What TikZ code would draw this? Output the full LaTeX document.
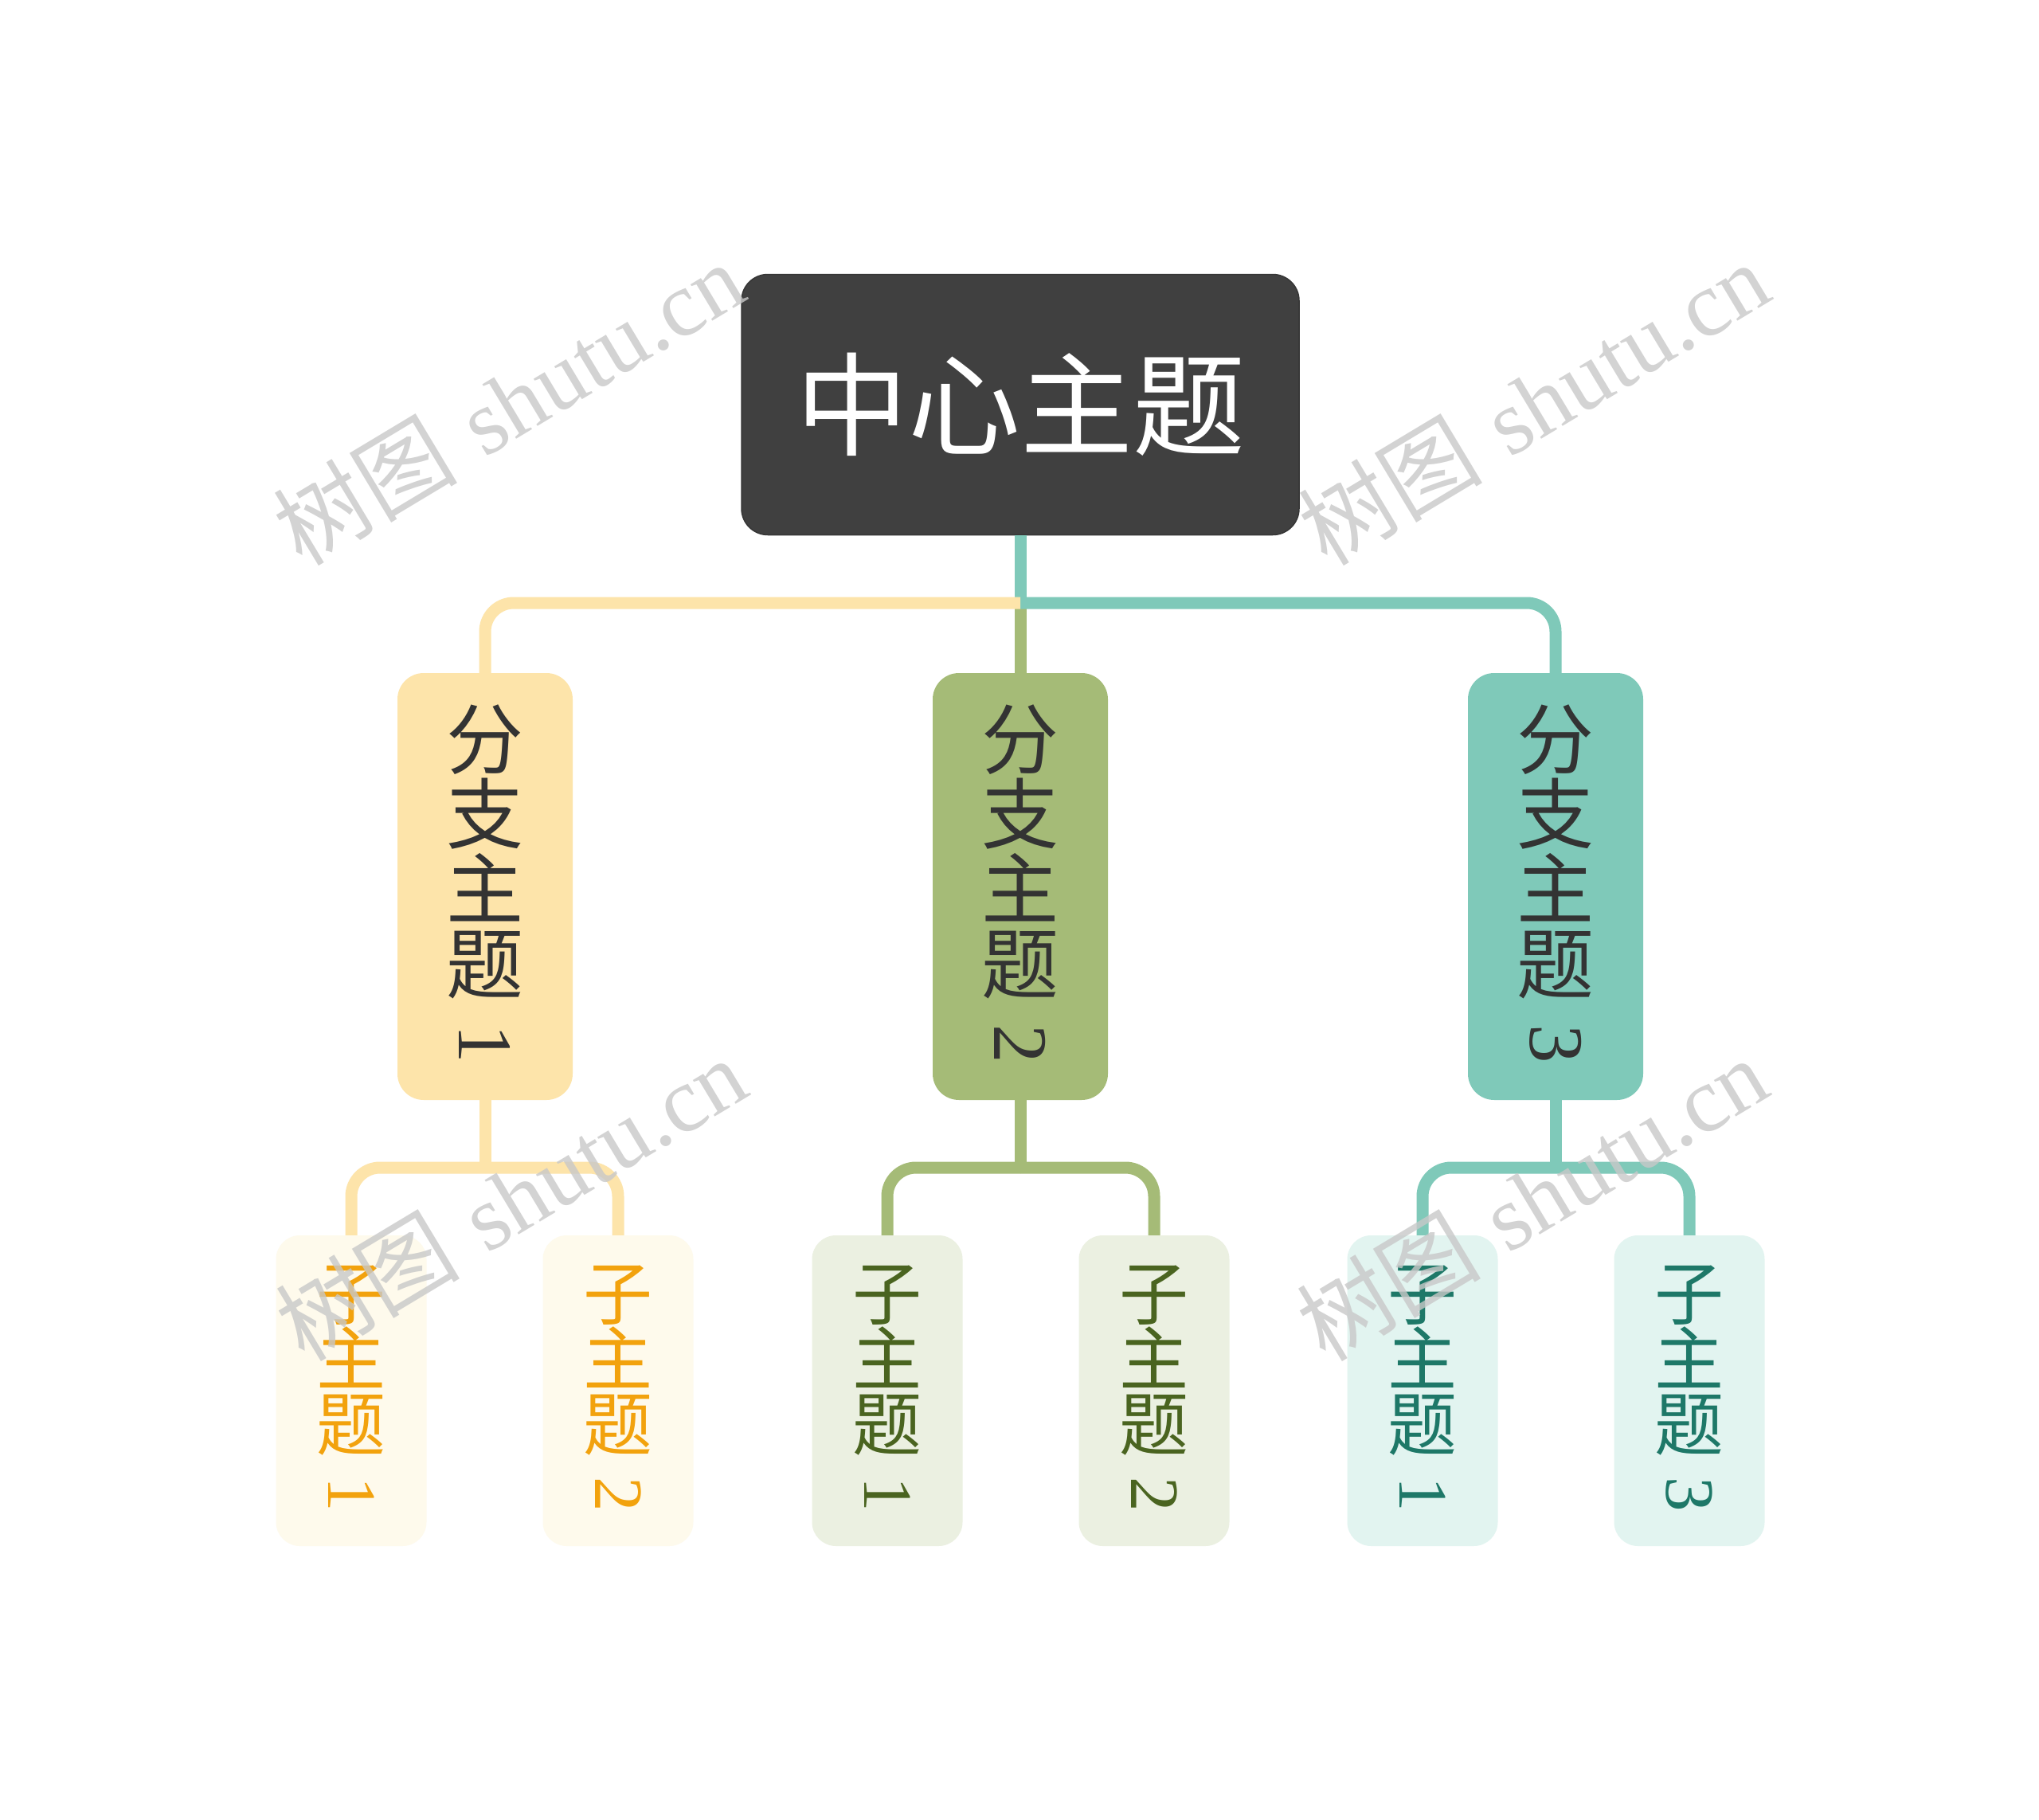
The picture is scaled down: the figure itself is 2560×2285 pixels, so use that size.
\documentclass[tikz,border=0pt]{standalone}
\usepackage{fontspec}
\usepackage{graphicx}
\newfontfamily\cjk{Noto Sans CJK SC}
\newfontfamily\serifnum{Liberation Serif}
\definecolor{rootfill}{HTML}{404040}
\definecolor{yfill}{HTML}{FDE4AA}
\definecolor{gfill}{HTML}{A5BB77}
\definecolor{tfill}{HTML}{7FC9B9}
\definecolor{ycfill}{HTML}{FEFAEC}
\definecolor{gcfill}{HTML}{EBF0E1}
\definecolor{tcfill}{HTML}{E2F4F0}
\definecolor{ytext}{HTML}{F2A20D}
\definecolor{gtext}{HTML}{4A6420}
\definecolor{ttext}{HTML}{1E7868}
\definecolor{btext}{HTML}{333333}
\definecolor{wmgray}{HTML}{C8C8C8}
\newcommand{\vdigit}[1]{\raisebox{0.56em}{\rotatebox{-90}{\serifnum #1}}}
\tikzset{
  rootbox/.style={fill=rootfill, draw=rootfill!85!black, line width=1.5pt, rounded corners=33pt,
    minimum width=700pt, minimum height=327pt, inner sep=0pt, text=white,
    font=\fontsize{141}{145}\selectfont\cjk},
  branchbox/.style={rounded corners=33pt, minimum width=220pt, minimum height=536pt,
    inner sep=0pt, text=btext, align=center, font=\fontsize{97}{94}\selectfont\cjk},
  childbox/.style={rounded corners=30pt, minimum width=189pt, minimum height=390pt,
    inner sep=0pt, align=center, font=\fontsize{87}{82}\selectfont\cjk},
  conn/.style={line width=15pt},
  wm/.style={rotate=31, text=wmgray, opacity=0.8, font=\fontsize{116}{116}\selectfont},
}
\begin{document}
\begin{tikzpicture}[x=1pt, y=-1pt]
\useasboundingbox (0,0) rectangle (2560,2285);
\fill[white] (0,0) rectangle (2560,2285);

% nodes
\node[rootbox] (root) at (1281,508) {中心主题};

\node[branchbox, fill=yfill] (b1) at (609,1113) {分\\支\\主\\题\\\vdigit{1}};
\node[branchbox, fill=gfill] (b2) at (1281,1113) {分\\支\\主\\题\\\vdigit{2}};
\node[branchbox, fill=tfill] (b3) at (1953,1113) {分\\支\\主\\题\\\vdigit{3}};

\node[childbox, fill=ycfill, text=ytext] (c11) at (441,1746) {子\\主\\题\\\vdigit{1}};
\node[childbox, fill=ycfill, text=ytext] (c12) at (776,1746) {子\\主\\题\\\vdigit{2}};
\node[childbox, fill=gcfill, text=gtext] (c21) at (1114,1746) {子\\主\\题\\\vdigit{1}};
\node[childbox, fill=gcfill, text=gtext] (c22) at (1449,1746) {子\\主\\题\\\vdigit{2}};
\node[childbox, fill=tcfill, text=ttext] (c31) at (1786,1746) {子\\主\\题\\\vdigit{1}};
\node[childbox, fill=tcfill, text=ttext] (c32) at (2121,1746) {子\\主\\题\\\vdigit{3}};

% junctions
\coordinate (j) at (1281,757);
\coordinate (j1) at (609,1466);
\coordinate (j2) at (1281,1466);
\coordinate (j3) at (1953,1466);

% main connectors
\draw[conn, gfill] (root.south) -- (b2.north);
\draw[conn, tfill] (root.south) -- (j);
\draw[conn, tfill, rounded corners=36pt] (j) -| (b3.north);
\draw[conn, yfill, rounded corners=36pt] (j) -| (b1.north);

% child connectors
\draw[conn, yfill] (b1.south) -- (j1);
\draw[conn, yfill, rounded corners=36pt] (j1) -| (c11.north);
\draw[conn, yfill, rounded corners=36pt] (j1) -| (c12.north);
\draw[conn, gfill] (b2.south) -- (j2);
\draw[conn, gfill, rounded corners=36pt] (j2) -| (c21.north);
\draw[conn, gfill, rounded corners=36pt] (j2) -| (c22.north);
\draw[conn, tfill] (b3.south) -- (j3);
\draw[conn, tfill, rounded corners=36pt] (j3) -| (c31.north);
\draw[conn, tfill, rounded corners=36pt] (j3) -| (c32.north);

% watermarks
\node[wm] (w1) at (638,506) {{\cjk 树图} {\serifnum shutu.cn}};
\node[wm] (w2) at (1925,506) {{\cjk 树图} {\serifnum shutu.cn}};
\node[wm] (w3) at (641,1505) {{\cjk 树图} {\serifnum shutu.cn}};
\node[wm] (w4) at (1923,1505) {{\cjk 树图} {\serifnum shutu.cn}};
\end{tikzpicture}
\end{document}
